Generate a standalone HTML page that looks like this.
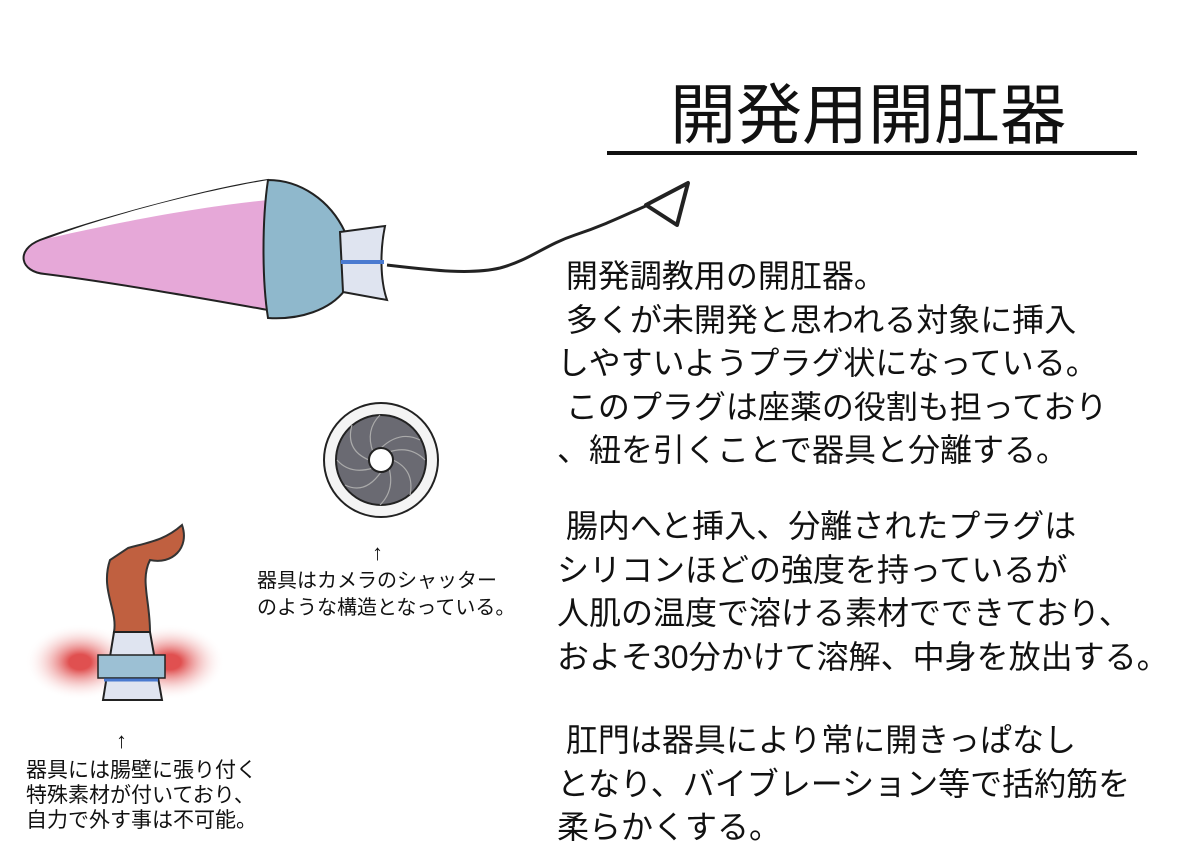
<!DOCTYPE html>
<html><head><meta charset="utf-8"><style>
body{margin:0;background:#fff;}
#c{position:relative;width:1200px;height:848px;overflow:hidden;background:#fff;font-family:"Liberation Sans","Noto Sans CJK JP",sans-serif;color:#111;}
.t{position:absolute;white-space:nowrap;}
.b{font-size:32px;line-height:43.5px;left:557px;}
</style></head><body><div id="c">
<svg width="1200" height="848" style="position:absolute;left:0;top:0">
<defs>
<radialGradient id="rg" cx="0.5" cy="0.5" r="0.5"><stop offset="0.2" stop-color="#e05050"/><stop offset="1" stop-color="#fff" stop-opacity="0"/></radialGradient>
</defs>
<path d="M268,180 C200,190 80,225 40,240 C15,250 20,272 45,274 C110,282 200,298 268,310 Z" fill="#e6a8d8" stroke="#222" stroke-width="2"/>
<path d="M268,180 C180,195 80,225 50,238 C150,215 220,205 268,200 Z" fill="#fff"/>
<path d="M268,180 C300,180 330,200 345,232 L345,290 C330,310 300,320 268,318 C262,280 262,220 268,180 Z" fill="#8fb8cc" stroke="#222" stroke-width="2"/>
<path d="M340,232 L385,226 C380,250 380,280 387,300 L343,292 Z" fill="#dfe4f0" stroke="#222" stroke-width="2"/>
<line x1="341" y1="262" x2="384" y2="262" stroke="#4a7ad0" stroke-width="4"/>
<path d="M387,265 C430,270 470,275 500,268 C530,260 545,245 575,235 C605,225 625,215 648,205" fill="none" stroke="#222" stroke-width="3"/>
<path d="M646,205 L688,183 L677,225 Z" fill="none" stroke="#222" stroke-width="4" stroke-linejoin="round"/>
<circle cx="381" cy="460" r="57" fill="#f4f4f4" stroke="#222" stroke-width="2"/>
<circle cx="381" cy="460" r="45" fill="#6a6a72" stroke="#222" stroke-width="2"/>
<g stroke="#aaa" stroke-width="1.2" fill="none">
<path d="M381,448 Q400,430 420,440"/><path d="M393,460 Q415,470 410,495"/><path d="M381,472 Q365,495 345,485"/><path d="M369,460 Q345,450 352,425"/>
<path d="M389,452 Q410,445 425,460"/><path d="M389,468 Q395,490 380,505"/><path d="M373,468 Q350,475 337,460"/><path d="M373,452 Q365,430 380,415"/>
</g>
<circle cx="381" cy="460" r="12" fill="#fff" stroke="#222" stroke-width="2"/>
<ellipse cx="80" cy="662" rx="55" ry="38" fill="url(#rg)"/>
<ellipse cx="170" cy="662" rx="55" ry="38" fill="url(#rg)"/>
<path d="M110,560 C100,590 118,610 114,632 L150,632 C150,600 140,580 150,560 C172,565 190,548 182,525 C165,540 150,542 128,548 Z" fill="#c06040" stroke="#333" stroke-width="2"/>
<path d="M114,632 L150,632 L162,700 L103,700 Z" fill="#dfe4f0" stroke="#222" stroke-width="2"/>
<path d="M98,655 L165,655 L165,678 L98,678 Z" fill="#9cc0d4" stroke="#222" stroke-width="1.5"/>
<line x1="104" y1="680" x2="158" y2="680" stroke="#4a7ad0" stroke-width="3"/>
<rect x="607" y="151" width="530" height="4" fill="#111"/>
</svg>
<div class="t" style="left:670px;top:62px;font-size:66px;">開発用開肛器</div>
<div class="t b" style="top:255px;">&nbsp;開発調教用の開肛器。<br>&nbsp;多くが未開発と思われる対象に挿入<br>しやすいようプラグ状になっている。<br>&nbsp;このプラグは座薬の役割も担っており<br>、紐を引くことで器具と分離する。</div>
<div class="t b" style="top:505px;">&nbsp;腸内へと挿入、分離されたプラグは<br>シリコンほどの強度を持っているが<br>人肌の温度で溶ける素材でできており、<br>およそ30分かけて溶解、中身を放出する。</div>
<div class="t b" style="top:719px;">&nbsp;肛門は器具により常に開きっぱなし<br>となり、バイブレーション等で括約筋を<br>柔らかくする。</div>
<div class="t" style="left:372px;top:540px;font-size:22px;">↑</div>
<div class="t" style="left:257px;top:568px;font-size:20px;line-height:27px;">器具はカメラのシャッター<br>のような構造となっている。</div>
<div class="t" style="left:116px;top:728px;font-size:22px;">↑</div>
<div class="t" style="left:26px;top:758px;font-size:21px;line-height:25px;">器具には腸壁に張り付く<br>特殊素材が付いており、<br>自力で外す事は不可能。</div>
</div></body></html>
